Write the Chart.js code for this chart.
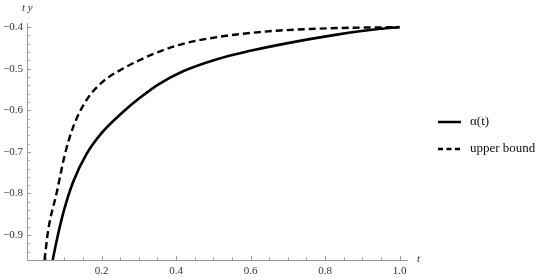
<!DOCTYPE html>
<html>
<head>
<meta charset="utf-8">
<script src="https://cdn.jsdelivr.net/npm/chart.js@4/dist/chart.umd.min.js"></script>
<style>
  html, body { margin: 0; padding: 0; background: #fff; }
  #wrap { width: 550px; height: 278px; position: relative; }
</style>
</head>
<body>
<div id="wrap"><canvas id="plot"></canvas></div>
<script>
// values
const alphaT = [0.069, 0.080, 0.097, 0.124, 0.160, 0.200, 0.259, 0.303, 0.352, 0.419, 0.510, 0.599, 0.679, 0.832, 0.948, 1.0];
const alphaY = [-0.960, -0.912, -0.848, -0.772, -0.705, -0.655, -0.603, -0.570, -0.538, -0.506, -0.477, -0.457, -0.442, -0.418, -0.404, -0.400];

const boundT = [0.047, 0.057, 0.080, 0.102, 0.124, 0.160, 0.205, 0.259, 0.303, 0.352, 0.419, 0.510, 0.599, 0.679, 0.840, 1.0];
const boundY = [-0.960, -0.888, -0.797, -0.705, -0.640, -0.575, -0.530, -0.499, -0.479, -0.460, -0.440, -0.424, -0.414, -0.408, -0.402, -0.400];

const seriesNames = ['\u03B1(t)', 'upper bound'];
const xTicks = [0.2, 0.4, 0.6, 0.8, 1.0];
const yTicks = [-0.9, -0.8, -0.7, -0.6, -0.5, -0.4];

const AXIS = '#9a9a9a';
const TXT = '#333';
const SERIF = '"Liberation Serif", "DejaVu Serif", serif';

function pts(xs, ys) { return xs.map((x, i) => ({ x: x, y: ys[i] })); }

// inward ticks, axis names and legend, Mathematica style
const extras = {
  id: 'extras',
  afterDraw(chart) {
    const ctx = chart.ctx;
    const xs = chart.scales.x, ys = chart.scales.y;
    const x0 = xs.left, y0 = ys.bottom;
    ctx.save();
    ctx.strokeStyle = AXIS;
    ctx.lineWidth = 1;
    ctx.beginPath();
    for (let k = 1; k <= 20; k++) {
      const v = k * 0.05;
      const px = Math.round(xs.getPixelForValue(v)) + 0.5;
      const len = (k % 4 === 0) ? 4 : 2.5;
      ctx.moveTo(px, y0);
      ctx.lineTo(px, y0 - len);
    }
    for (let k = 0; k <= 28; k++) {
      const v = -0.96 + k * 0.02;
      const py = Math.round(ys.getPixelForValue(v)) + 0.5;
      const major = yTicks.some(t => Math.abs(t - v) < 1e-6);
      ctx.moveTo(x0, py);
      ctx.lineTo(x0 + (major ? 4 : 2.5), py);
    }
    ctx.stroke();

    ctx.fillStyle = TXT;
    ctx.font = 'italic 11px ' + SERIF;
    ctx.textBaseline = 'middle';
    ctx.textAlign = 'left';
    ctx.fillText('t', xs.right + 10, y0 - 1);
    ctx.fillText('t y', 22, 8);

    // legend
    const items = chart.data.datasets;
    const lx = 438, ly = [122, 149];
    items.forEach((ds, i) => {
      ctx.strokeStyle = ds.borderColor;
      ctx.lineWidth = 2.5;
      ctx.setLineDash(ds.borderDash && ds.borderDash.length ? [5, 3.5] : []);
      ctx.beginPath();
      ctx.moveTo(lx, ly[i]);
      ctx.lineTo(lx + 23, ly[i]);
      ctx.stroke();
      ctx.setLineDash([]);
      ctx.fillStyle = '#111';
      ctx.font = '13px ' + SERIF;
      ctx.fillText(ds.label, lx + 32, ly[i]);
    });
    ctx.restore();
  }
};

new Chart(document.getElementById('plot'), {
  type: 'line',
  data: {
    datasets: [
      {
        label: seriesNames[0],
        data: pts(alphaT, alphaY),
        borderColor: '#000',
        borderWidth: 2.6,
        pointRadius: 0,
        cubicInterpolationMode: 'monotone',
        fill: false
      },
      {
        label: seriesNames[1],
        data: pts(boundT, boundY),
        borderColor: '#000',
        borderWidth: 2.4,
        borderDash: [7, 4],
        pointRadius: 0,
        cubicInterpolationMode: 'monotone',
        fill: false
      }
    ]
  },
  options: {
    responsive: true,
    maintainAspectRatio: false,
    animation: false,
    layout: { padding: { top: 23, right: 143, left: 0, bottom: 0 } },
    plugins: { legend: { display: false }, tooltip: { enabled: false } },
    scales: {
      x: {
        type: 'linear',
        min: 0,
        max: 1.02,
        afterBuildTicks: s => { s.ticks = xTicks.map(v => ({ value: v })); },
        afterFit: s => { s.height = 18; },
        grid: { display: true, drawOnChartArea: false, drawTicks: false, color: 'rgba(0,0,0,0)' },
        border: { display: true, color: AXIS, width: 1 },
        ticks: {
          padding: 5,
          maxRotation: 0,
          color: TXT,
          font: { family: SERIF, size: 11 },
          callback: v => Number(v).toFixed(1)
        }
      },
      y: {
        type: 'linear',
        min: -0.96,
        max: -0.39,
        afterBuildTicks: s => { s.ticks = yTicks.map(v => ({ value: v })); },
        afterFit: s => { s.width = 27; },
        grid: { display: true, drawOnChartArea: false, drawTicks: false, color: 'rgba(0,0,0,0)' },
        border: { display: true, color: AXIS, width: 1 },
        ticks: {
          padding: 4,
          color: TXT,
          font: { family: SERIF, size: 11 },
          callback: v => '\u2212' + Math.abs(Number(v)).toFixed(1)
        }
      }
    }
  },
  plugins: [extras]
});
</script>
</body>
</html>
